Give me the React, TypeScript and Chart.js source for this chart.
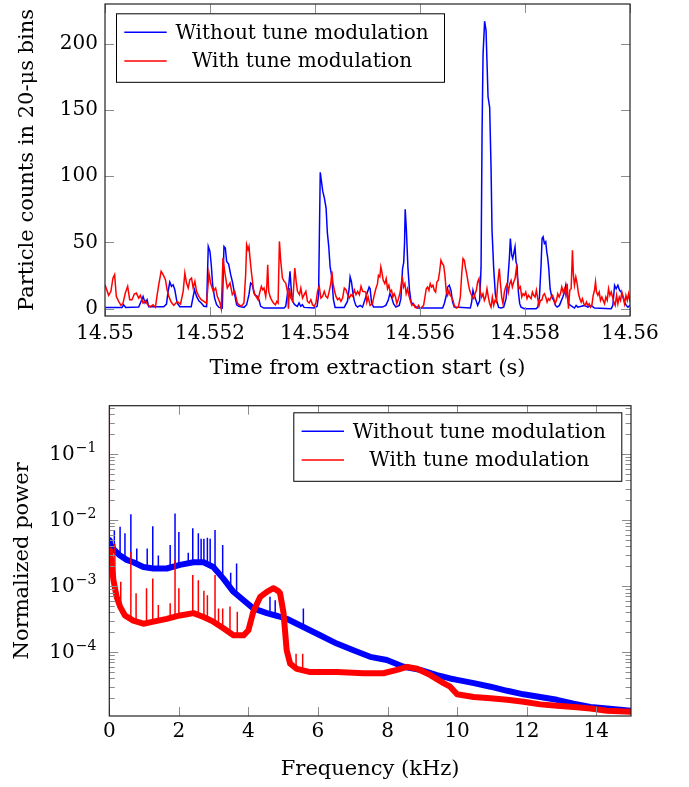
import React, { useEffect, useRef } from 'react';
import { Chart, registerables } from 'chart.js';

Chart.register(...registerables);

// ---------- Top panel data: particle counts per 20-us bin (time offset in microseconds from 14.55 s) ----------
const TIME_START_S = 14.55;

const BLUE_COUNTS: [number, number][] = [
  [0,1.0],[323,1.0],[355,3.0],[393,1.0],[642,1.3],[686,5.5],[725,9.3],[763,4.3],[801,6.8],[833,1.5],
  [1120,1.5],[1171,3.5],[1202,13.1],[1234,20.1],[1266,16.9],[1298,18.1],[1330,14.3],[1374,4.3],[1425,1.5],
  [1642,1.5],[1680,9.3],[1706,14.3],[1744,9.3],[1788,6.0],[1833,4.3],[1884,1.8],[1935,1.5],[1967,47.0],
  [1999,43.3],[2024,33.2],[2050,18.1],[2088,8.0],[2126,3.0],[2171,1.0],[2234,0.5],[2266,47.0],[2292,45.8],
  [2317,35.7],[2355,33.7],[2394,25.7],[2432,19.4],[2470,10.6],[2508,3.0],[2547,1.8],[2647,1.0],[2698,3.0],
  [2742,10.6],[2774,19.4],[2806,18.1],[2838,11.8],[2869,10.1],[2901,9.3],[2933,6.8],[2965,1.8],[3028,0.5],
  [3410,0.5],[3442,1.8],[3474,10.6],[3505,19.4],[3524,28.2],[3550,13.1],[3575,5.5],[3613,3.0],[3664,1.8],
  [3696,4.3],[3728,1.8],[3760,3.0],[3792,1.0],[3982,0.5],[4040,1.8],[4068,10],[4100,103],[4148,88.5],
  [4179,83.5],[4211,76],[4236,57],[4262,47],[4287,32],[4320,24],[4350,7],[4383,1],[4555,1.0],[4618,5.5],
  [4650,15.1],[4669,24.0],[4695,20.2],[4720,12.6],[4746,6.3],[4778,2.5],[4809,1.2],[4860,2.5],[4905,1.2],
  [4968,8.8],[5000,12.6],[5031,16.4],[5050,15.1],[5076,5.0],[5114,1.2],[5286,1.2],[5349,2.5],[5394,6.3],
  [5426,11.3],[5458,8.8],[5496,3.8],[5540,1.2],[5604,2.5],[5636,7.6],[5667,30],[5690,35],[5706,50],[5718,75],
  [5740,60],[5770,31],[5800,14],[5830,5],[5890,2.5],[5954,0.5],[6431,0.5],[6462,3.8],[6494,8.8],[6526,16.4],
  [6558,17.7],[6590,13.9],[6621,5.0],[6653,1.2],[6958,0.5],[6984,5.0],[7009,13.9],[7035,10.1],[7067,6.3],
  [7098,2.5],[7136,6],[7163,31],[7182,133],[7201,192],[7231,217],[7258,210],[7296,160],[7327,152],[7353,107],
  [7372,59],[7403,31],[7435,11],[7461,6],[7498,1],[7543,0.5],[7594,1.2],[7639,7.6],[7670,20.2],[7702,37.9],
  [7721,53.0],[7747,40.4],[7766,37.9],[7785,41.6],[7810,46.7],[7829,35.3],[7848,32.8],[7874,12.6],[7899,3.8],
  [7925,1.2],[7988,0],[8211,0],[8243,1.2],[8275,8.8],[8306,32.8],[8325,53.0],[8345,54.3],[8370,49.2],
  [8395,50.5],[8415,42.9],[8434,37.9],[8453,30.3],[8478,15.1],[8510,8.8],[8548,6.3],[8580,2.5],[8612,1.2],
  [8656,2.5],[8720,8.8],[8752,12.6],[8777,17.7],[8802,10.1],[8828,3.8],[8866,2.5],[8942,0.5],[8974,2.5],
  [9006,1.2],[9133,2.5],[9197,1.2],[9260,2.5],[9324,0.5],[9642,0],[9674,2.5],[9706,17.7],[9737,15.1],
  [9769,17.7],[9801,13.9],[9833,12.6],[9865,8.8],[9896,5.0],[9928,2.5],[9960,1.2],[10000,2.5]
];

const RED_COUNTS: [number, number][] = [
  [0,18.1],[69,10.1],[113,13.1],[151,23.1],[183,25.7],[215,9.3],[260,5.5],[304,2.5],[342,4.0],[387,11.8],
  [432,16.9],[470,6.8],[514,6.8],[559,11.1],[597,11.8],[642,8.0],[674,10.1],[725,4.3],[769,6.0],[814,3.0],
  [865,1.5],[916,3.0],[960,1.0],[992,10.1],[1024,18.1],[1069,28.2],[1107,25.7],[1151,21.9],[1183,14.3],
  [1215,9.3],[1260,5.0],[1311,2.5],[1374,5.5],[1438,3.5],[1489,13.1],[1521,26.9],[1553,19.4],[1585,15.6],
  [1616,21.9],[1648,23.1],[1680,15.6],[1712,20.6],[1744,13.1],[1788,9.3],[1833,6.8],[1884,5.5],[1935,4.0],
  [1980,26.9],[2011,19.4],[2062,13.1],[2107,15.6],[2139,9.3],[2190,4.3],[2215,0],[2247,38.2],[2279,28.2],
  [2330,15.6],[2381,19.4],[2426,10.6],[2470,13.1],[2521,4.3],[2552,3.0],[2596,1.8],[2647,4.3],[2679,25.7],
  [2698,48.3],[2724,44.5],[2743,47.0],[2762,38.2],[2787,28.2],[2825,15.6],[2851,10.6],[2876,9.3],[2915,6.8],
  [2953,13.1],[2978,16.9],[3004,14.3],[3029,15.6],[3061,9.3],[3080,15.6],[3099,33.2],[3118,13.1],[3144,9.3],
  [3169,6.8],[3208,4.3],[3246,3.0],[3271,5.5],[3297,4.3],[3322,50.8],[3348,35.7],[3380,23.1],[3412,20.6],
  [3443,19.4],[3475,13.1],[3494,0],[3513,15.6],[3539,8.0],[3577,5.5],[3615,30.7],[3641,20.6],[3666,13.1],
  [3704,10.6],[3730,15.6],[3762,8.0],[3794,10.6],[3826,13.1],[3857,5.5],[3889,4.3],[3921,6.8],[3953,3.0],
  [3985,1.8],[4017,4.3],[4048,13.1],[4080,16.9],[4112,8.0],[4144,9.3],[4176,13.1],[4208,9.3],[4240,8.0],
  [4271,13.1],[4303,19.4],[4322,28.2],[4341,19.4],[4367,14.3],[4399,9.3],[4431,6.8],[4463,8.0],[4494,5.5],
  [4526,8.0],[4558,15.6],[4590,14.3],[4622,10.6],[4654,8.0],[4685,10.6],[4717,9.3],[4749,14.3],[4781,10.6],
  [4813,13.1],[4845,10.6],[4877,16.9],[4908,13.1],[4968,12.6],[4987,5.0],[5012,8.8],[5050,2.5],[5095,3.8],
  [5127,10.1],[5159,15.1],[5190,18.9],[5209,25.2],[5235,24.0],[5254,31.5],[5273,27.8],[5299,21.4],[5330,18.9],
  [5356,22.7],[5381,15.1],[5407,17.7],[5432,12.6],[5458,13.9],[5483,8.8],[5508,11.3],[5534,8.8],[5559,3.8],
  [5591,7.6],[5623,12.6],[5648,20.2],[5667,22.7],[5686,16.4],[5712,18.9],[5737,11.3],[5763,15.1],[5788,10.1],
  [5814,6.3],[5845,2.5],[5877,3.8],[5903,1.2],[5941,0.5],[5973,2.5],[6004,0],[6036,1.2],[6068,2.5],[6094,8.8],
  [6119,15.1],[6144,16.4],[6170,13.9],[6195,18.9],[6221,16.4],[6246,17.7],[6272,13.9],[6297,12.6],[6322,20.2],
  [6348,21.4],[6373,27.8],[6399,36.6],[6424,34.1],[6450,32.8],[6475,25.2],[6501,12.6],[6526,10.1],[6551,13.9],
  [6577,10.1],[6602,8.8],[6628,6.3],[6653,2.5],[6691,0.5],[6730,1.2],[6768,8.8],[6793,25.2],[6819,37.9],
  [6844,36.6],[6869,30.3],[6895,25.2],[6920,18.9],[6946,13.9],[6971,11.3],[6997,8.8],[7022,7.6],[7048,11.3],
  [7073,13.9],[7098,20.2],[7124,22.7],[7149,12.6],[7175,8.8],[7200,11.3],[7226,6.3],[7251,8.8],[7276,15.1],
  [7302,8.8],[7327,3.8],[7353,1.2],[7378,8.8],[7404,2.5],[7429,6.3],[7455,5.0],[7480,18.9],[7511,30.3],
  [7530,20.2],[7556,8.8],[7581,3.8],[7607,12.6],[7632,16.4],[7658,18.9],[7683,12.6],[7709,18.9],[7734,21.4],
  [7759,16.4],[7785,20.2],[7810,22.7],[7836,30.3],[7861,21.4],[7887,15.1],[7912,16.4],[7938,8.8],[7963,11.3],
  [7988,10.1],[8014,12.6],[8039,7.6],[8065,10.1],[8090,8.8],[8116,7.6],[8141,12.6],[8166,10.1],[8192,8.8],
  [8217,13.9],[8243,7.6],[8268,2.5],[8294,6.3],[8319,6.3],[8345,10.1],[8370,11.3],[8395,8.8],[8421,5.0],
  [8446,7.6],[8472,6.3],[8497,8.8],[8523,10.1],[8548,7.6],[8574,3.8],[8599,6.3],[8624,11.3],[8650,8.8],
  [8675,11.3],[8701,16.4],[8726,12.6],[8752,15.1],[8777,10.1],[8803,18.9],[8828,0],[8853,13.9],[8879,15.1],
  [8904,44.2],[8923,25.2],[8942,17.7],[8968,24.0],[8993,18.9],[9019,11.3],[9044,7.6],[9070,5.0],[9095,7.6],
  [9120,3.8],[9146,2.5],[9171,5.0],[9197,2.5],[9222,3.8],[9248,1.2],[9273,2.5],[9299,10.1],[9324,13.9],
  [9343,20.2],[9362,12.6],[9388,10.1],[9413,12.6],[9438,6.3],[9464,8.8],[9489,6.3],[9515,3.8],[9540,8.8],
  [9566,6.3],[9591,15.1],[9617,10.1],[9642,12.6],[9667,8.8],[9693,5.0],[9718,2.5],[9744,10.1],[9769,3.8],
  [9795,8.8],[9820,6.3],[9845,12.6],[9871,8.8],[9896,3.8],[9922,10.1],[9947,6.3],[9973,11.3],[10000,5.0]
];

const TOP_X_TICKS = [14.55, 14.552, 14.554, 14.556, 14.558, 14.56];
const TOP_X_LABELS = ['14.55', '14.552', '14.554', '14.556', '14.558', '14.56'];
const TOP_Y_TICKS = [0, 50, 100, 150, 200];
const TOP_Y_LABELS = ['0', '50', '100', '150', '200'];

// ---------- Bottom panel data: normalized power spectrum (kHz, power) ----------
const BLUE_SPECTRUM: [number, number][] = [
  [0,5.0e-3],[0.03,4.2e-3],[0.15,3.5e-3],[0.31,2.9e-3],[0.5,2.5e-3],[0.69,2.3e-3],[0.98,1.95e-3],
  [1.27,1.85e-3],[1.65,1.85e-3],[2.03,2.1e-3],[2.42,2.3e-3],[2.71,2.3e-3],[2.99,1.95e-3],[3.28,1.3e-3],
  [3.57,8.2e-4],[3.86,6.1e-4],[4.14,4.6e-4],[4.53,3.9e-4],[4.86,3.5e-4],[5.10,3.2e-4],[5.58,2.4e-4],
  [6.06,1.8e-4],[6.54,1.35e-4],[7.02,1.07e-4],[7.50,8.5e-5],[7.98,7.6e-5],[8.46,6.0e-5],[8.94,5.4e-5],
  [9.42,4.5e-5],[9.80,4.0e-5],[10.0,3.8e-5],[10.48,3.4e-5],[10.96,3.0e-5],[11.44,2.6e-5],[11.91,2.3e-5],
  [12.39,2.1e-5],[12.87,1.9e-5],[13.35,1.66e-5],[13.83,1.48e-5],[14.31,1.4e-5],[15,1.3e-5]
];
const RED_SPECTRUM: [number, number][] = [
  [0.02,3.5e-3],[0.12,1.23e-3],[0.21,6.9e-4],[0.31,4.9e-4],[0.45,3.6e-4],[0.69,3.0e-4],[0.98,2.7e-4],
  [1.27,2.9e-4],[1.65,3.2e-4],[2.03,3.6e-4],[2.42,3.9e-4],[2.71,3.4e-4],[2.99,2.9e-4],[3.28,2.3e-4],
  [3.57,1.8e-4],[3.86,1.8e-4],[4.0,2.15e-4],[4.14,4.1e-4],[4.34,6.9e-4],[4.53,8.2e-4],[4.72,9.3e-4],
  [4.85,8.5e-4],[4.91,7.8e-4],[5.01,3.9e-4],[5.10,1.07e-4],[5.2,6.7e-5],[5.39,5.6e-5],[5.78,5.0e-5],
  [6.54,5.0e-5],[7.31,4.8e-5],[7.88,4.8e-5],[8.27,5.4e-5],[8.56,6.0e-5],[8.85,5.6e-5],[9.23,4.5e-5],
  [9.61,3.4e-5],[9.80,3.0e-5],[10.0,2.3e-5],[10.48,2.1e-5],[10.96,2.0e-5],[11.44,1.9e-5],[11.91,1.78e-5],
  [12.39,1.62e-5],[12.87,1.55e-5],[13.35,1.48e-5],[13.83,1.4e-5],[14.31,1.3e-5],[15,1.25e-5]
];
// narrow spectral lines: [frequency kHz, foot value, peak value]
const BLUE_LINES: [number, number, number][] = [
  [0.07,4.2e-3,5.2e-3],[0.145,3.5e-3,7.1e-3],[0.31,2.9e-3,7.9e-3],[0.45,2.6e-3,6.3e-3],[0.62,2.4e-3,1.23e-2],
  [0.79,2.2e-3,3.7e-3],[1.09,1.9e-3,3.7e-3],[1.25,1.85e-3,8.1e-3],[1.41,1.85e-3,2.9e-3],[1.75,1.9e-3,4.2e-3],
  [1.89,2.0e-3,1.26e-2],[2.00,2.1e-3,6.6e-3],[2.27,2.2e-3,3.2e-3],[2.40,2.3e-3,7.5e-3],[2.56,2.3e-3,6.3e-3],
  [2.64,2.3e-3,5.2e-3],[2.72,2.3e-3,5.2e-3],[2.82,2.2e-3,5.4e-3],[2.90,2.1e-3,5.2e-3],[3.04,1.9e-3,7.1e-3],
  [3.26,1.3e-3,4.2e-3],[3.49,9e-4,1.6e-3],[3.66,7.5e-4,2.2e-3],[4.62,3.9e-4,6.9e-4],[4.77,3.6e-4,6.1e-4],
  [4.96,3.4e-4,6.3e-4],[5.58,2.4e-4,4.6e-4]
];
const RED_LINES: [number, number, number][] = [
  [0,3.5e-3,0.54],[0.16,9e-4,4.4e-3],[0.33,4.9e-4,1.17e-3],[0.62,3.1e-4,3.3e-3],[0.77,2.9e-4,7.8e-4],
  [1.07,2.7e-4,9.3e-4],[1.25,2.9e-4,1.3e-3],[1.41,3.0e-4,5.2e-4],[1.75,3.3e-4,5.5e-4],[1.89,3.5e-4,2.5e-3],
  [2.00,3.6e-4,9.3e-4],[2.40,3.9e-4,1.48e-3],[2.56,3.7e-4,1.23e-3],[2.72,3.4e-4,8.5e-4],[2.82,3.2e-4,7.3e-4],
  [3.04,2.8e-4,1.48e-3],[3.14,2.6e-4,4.6e-4],[3.26,2.3e-4,4.6e-4],[3.47,1.9e-4,4.9e-4],[3.68,1.8e-4,4.1e-4],
  [5.37,5.6e-5,9.5e-5],[5.56,5.3e-5,9.5e-5]
];

const BOT_X_TICKS = [0, 2, 4, 6, 8, 10, 12, 14];
const BOT_X_LABELS = ['0', '2', '4', '6', '8', '10', '12', '14'];
const BOT_Y_MAJOR = [1e-1, 1e-2, 1e-3, 1e-4];
const BOT_Y_EXPONENTS = ['\u22121', '\u22122', '\u22123', '\u22124'];

const LEGEND_LABELS = ['Without tune modulation', 'With tune modulation'];
const BLUE = '#0000ff';
const RED = '#ff0000';
const FAMILY = "'DejaVu Serif', serif";
const FSIZE = 20;
const TITLE_SIZE = 21;

function logMinorTicks(min: number, max: number): number[] {
  const out: number[] = [];
  for (let k = -6; k <= 0; k++) {
    for (let m = 2; m <= 9; m++) {
      const v = m * Math.pow(10, k);
      if (v > min && v < max) out.push(v);
    }
  }
  return out;
}

function drawLegend(ctx: CanvasRenderingContext2D, left: number, top: number) {
  const w = 328, h = 68.5;
  ctx.save();
  ctx.fillStyle = '#fff';
  ctx.fillRect(left, top, w, h);
  ctx.strokeStyle = '#000';
  ctx.lineWidth = 1;
  ctx.strokeRect(left + 0.5, top + 0.5, w, h);
  const rows = [
    { color: BLUE, label: LEGEND_LABELS[0], y: top + 19 },
    { color: RED, label: LEGEND_LABELS[1], y: top + 47.7 },
  ];
  ctx.font = `${FSIZE}px ${FAMILY}`;
  ctx.textAlign = 'center';
  ctx.textBaseline = 'middle';
  for (const r of rows) {
    ctx.strokeStyle = r.color;
    ctx.lineWidth = 1.4;
    ctx.beginPath();
    ctx.moveTo(left + 8.3, r.y);
    ctx.lineTo(left + 50.7, r.y);
    ctx.stroke();
    ctx.fillStyle = '#000';
    ctx.fillText(r.label, left + 186, r.y + 1);
  }
  ctx.restore();
}

function framePlugin(cfg: {
  id: string; xMajor: number[]; yMajor: number[]; yMinor?: number[];
  legend: (a: any) => [number, number]; yLog?: boolean;
}) {
  return {
    id: cfg.id,
    afterDatasetsDraw(chart: any) {
      const { ctx, chartArea: a, scales } = chart;
      const xs = scales.x, ys = scales.y;
      ctx.save();
      ctx.strokeStyle = '#8c8c8c';
      ctx.lineWidth = 1;
      ctx.beginPath();
      const major = 9, minor = 5.5;
      for (const v of cfg.xMajor) {
        const px = Math.round(xs.getPixelForValue(v)) + 0.5;
        ctx.moveTo(px, a.bottom); ctx.lineTo(px, a.bottom - major);
        ctx.moveTo(px, a.top); ctx.lineTo(px, a.top + major);
      }
      for (const v of cfg.yMajor) {
        const py = Math.round(ys.getPixelForValue(v)) + 0.5;
        ctx.moveTo(a.left, py); ctx.lineTo(a.left + major, py);
        ctx.moveTo(a.right, py); ctx.lineTo(a.right - major, py);
      }
      for (const v of cfg.yMinor || []) {
        const py = Math.round(ys.getPixelForValue(v)) + 0.5;
        ctx.moveTo(a.left, py); ctx.lineTo(a.left + minor, py);
        ctx.moveTo(a.right, py); ctx.lineTo(a.right - minor, py);
      }
      ctx.stroke();
      ctx.strokeStyle = '#222';
      ctx.lineWidth = 1.2;
      ctx.strokeRect(a.left, a.top, a.right - a.left, a.bottom - a.top);
      ctx.restore();
      const [lx, ly] = cfg.legend(a);
      drawLegend(ctx, lx, ly);

      if (cfg.yLog) {
        ctx.save();
        ctx.fillStyle = '#000';
        ctx.textAlign = 'left';
        const right = a.left - 13;
        BOT_Y_MAJOR.forEach((v, i) => {
          const py = ys.getPixelForValue(v);
          ctx.font = `14px ${FAMILY}`;
          const supW = ctx.measureText(BOT_Y_EXPONENTS[i]).width;
          ctx.font = `${FSIZE}px ${FAMILY}`;
          const tenW = ctx.measureText('10').width;
          ctx.textBaseline = 'middle';
          ctx.fillText('10', right - supW - tenW - 1, py + 1);
          ctx.font = `14px ${FAMILY}`;
          ctx.textBaseline = 'alphabetic';
          ctx.fillText(BOT_Y_EXPONENTS[i], right - supW, py - 2);
        });
        ctx.restore();
      }
    },
  };
}

const tickFont = { family: FAMILY, size: FSIZE };
const titleFont = { family: FAMILY, size: TITLE_SIZE };

function fixY(width: number) {
  return (s: any) => { s.width = width; s.paddingTop = 0; s.paddingBottom = 0; };
}
function fixX(height: number) {
  return (s: any) => { s.height = height; s.paddingLeft = 0; s.paddingRight = 0; };
}

function topConfig(): any {
  return {
    type: 'line',
    data: {
      datasets: [
        {
          label: LEGEND_LABELS[1],
          data: RED_COUNTS.map(([t, n]) => ({ x: TIME_START_S + t * 1e-6, y: n })),
          borderColor: RED, borderWidth: 1.5, pointRadius: 0, tension: 0, fill: false,
        },
        {
          label: LEGEND_LABELS[0],
          data: BLUE_COUNTS.map(([t, n]) => ({ x: TIME_START_S + t * 1e-6, y: n })),
          borderColor: BLUE, borderWidth: 1.5, pointRadius: 0, tension: 0, fill: false,
        },
      ],
    },
    options: {
      animation: false, responsive: false, maintainAspectRatio: false, devicePixelRatio: 1,
      layout: { padding: { left: 0, right: 59, top: 4, bottom: 0 } },
      plugins: { legend: { display: false }, tooltip: { enabled: false } },
      scales: {
        x: {
          type: 'linear', min: 14.55, max: 14.56,
          afterBuildTicks: (s: any) => { s.ticks = TOP_X_TICKS.map((v) => ({ value: v })); },
          afterFit: fixX(74),
          grid: { display: false, drawTicks: false }, border: { display: false },
          ticks: { autoSkip: false, maxRotation: 0, minRotation: 0, padding: 6, color: '#000', font: tickFont,
            callback: (_v: any, i: number) => TOP_X_LABELS[i] },
          title: { display: true, text: 'Time from extraction start (s)', color: '#000', font: titleFont,
            padding: { top: 0, bottom: 9 } },
        },
        y: {
          type: 'linear', min: -5.5, max: 230,
          afterBuildTicks: (s: any) => { s.ticks = TOP_Y_TICKS.map((v) => ({ value: v })); },
          afterFit: fixY(105),
          grid: { display: false, drawTicks: false }, border: { display: false },
          ticks: { autoSkip: false, padding: 7, color: '#000', font: tickFont,
            callback: (_v: any, i: number) => TOP_Y_LABELS[i] },
          title: { display: true, text: 'Particle counts in 20-\u03bcs bins', color: '#000', font: titleFont,
            padding: { top: 15, bottom: 0 } },
        },
      },
    },
    plugins: [framePlugin({
      id: 'topFrame', xMajor: TOP_X_TICKS, yMajor: TOP_Y_TICKS,
      legend: (a: any) => [a.left + 11, a.top + 9.3],
    })],
  };
}

function spikePoints(lines: [number, number, number][]) {
  const pts: any[] = [];
  for (const [f, base, top] of lines) {
    pts.push({ x: f, y: base }, { x: f, y: top }, { x: f, y: null });
  }
  return pts;
}

function bottomConfig(): any {
  const yMin = 1.08e-5, yMax = 0.54;
  return {
    type: 'line',
    data: {
      datasets: [
        { label: 'red lines', data: spikePoints(RED_LINES), borderColor: RED, borderWidth: 1.5,
          pointRadius: 0, spanGaps: false, tension: 0 },
        { label: LEGEND_LABELS[1], data: RED_SPECTRUM.map(([f, p]) => ({ x: f, y: p })), borderColor: RED,
          borderWidth: 6, borderJoinStyle: 'round', borderCapStyle: 'round', pointRadius: 0, tension: 0 },
        { label: 'blue lines', data: spikePoints(BLUE_LINES), borderColor: BLUE, borderWidth: 1.5,
          pointRadius: 0, spanGaps: false, tension: 0 },
        { label: LEGEND_LABELS[0], data: BLUE_SPECTRUM.map(([f, p]) => ({ x: f, y: p })), borderColor: BLUE,
          borderWidth: 6, borderJoinStyle: 'round', borderCapStyle: 'round', pointRadius: 0, tension: 0 },
      ],
    },
    options: {
      animation: false, responsive: false, maintainAspectRatio: false, devicePixelRatio: 1,
      layout: { padding: { left: 0, right: 58, top: 15.7, bottom: 0 } },
      plugins: { legend: { display: false }, tooltip: { enabled: false } },
      scales: {
        x: {
          type: 'linear', min: 0, max: 15,
          afterBuildTicks: (s: any) => { s.ticks = BOT_X_TICKS.map((v) => ({ value: v })); },
          afterFit: fixX(71),
          grid: { display: false, drawTicks: false }, border: { display: false },
          ticks: { autoSkip: false, maxRotation: 0, minRotation: 0, padding: 3.3, color: '#000', font: tickFont,
            callback: (_v: any, i: number) => BOT_X_LABELS[i] },
          title: { display: true, text: 'Frequency (kHz)', color: '#000', font: titleFont,
            padding: { top: 0, bottom: 5 } },
        },
        y: {
          type: 'logarithmic', min: yMin, max: yMax,
          afterFit: fixY(109.3),
          grid: { display: false, drawTicks: false }, border: { display: false },
          ticks: { display: false },
          title: { display: true, text: 'Normalized power', color: '#000', font: titleFont,
            padding: { top: 10, bottom: 0 } },
        },
      },
    },
    plugins: [framePlugin({
      id: 'botFrame', xMajor: BOT_X_TICKS, yMajor: BOT_Y_MAJOR, yMinor: logMinorTicks(yMin, yMax), yLog: true,
      legend: (a: any) => [a.left + 184, a.top + 6.6],
    })],
  };
}

export default function App() {
  const topRef = useRef<HTMLCanvasElement>(null);
  const botRef = useRef<HTMLCanvasElement>(null);
  useEffect(() => {
    const c1 = new Chart(topRef.current as HTMLCanvasElement, topConfig());
    const c2 = new Chart(botRef.current as HTMLCanvasElement, bottomConfig());
    return () => { c1.destroy(); c2.destroy(); };
  }, []);
  return (
    <div style={{ position: 'absolute', left: 0, top: 0, width: 689, height: 787, background: '#fff' }}>
      <canvas ref={topRef} width={689} height={390}
        style={{ position: 'absolute', left: 0, top: 0, width: 689, height: 390 }} />
      <canvas ref={botRef} width={689} height={397}
        style={{ position: 'absolute', left: 0, top: 390, width: 689, height: 397 }} />
    </div>
  );
}
